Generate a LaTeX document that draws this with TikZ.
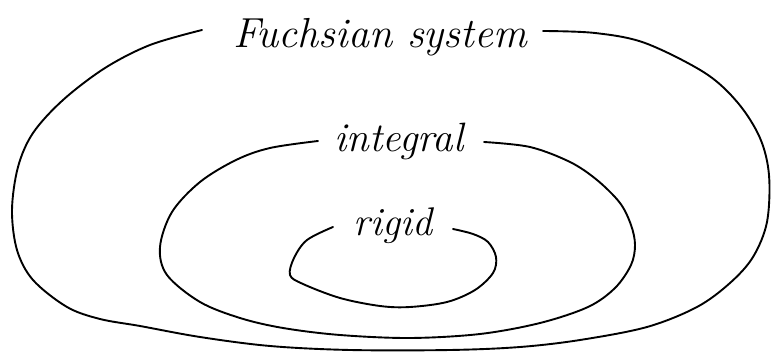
\documentclass[tikz,border=0pt]{standalone}
\begin{document}
\begin{tikzpicture}[x=1pt,y=-1pt,
  hand/.style={line width=1.9pt, line cap=round, line join=round},
  lbl/.style={inner sep=0pt}]
\useasboundingbox (0,0) rectangle (771,352);
% labels
\node[lbl, font=\fontsize{42}{42}\selectfont\itshape] (fs) at (380,37) {Fuchsian system};
\node[lbl, font=\fontsize{41}{41}\selectfont\itshape] (ig) at (399,141) {integral};
\node[lbl, font=\fontsize{40}{40}\selectfont\itshape] (rg) at (393,226) {rigid};
% outer
\draw[hand] plot[smooth, tension=0.55] coordinates {
 (202,30) (150,45) (105,68) (63,100) (33,133) (18,167) (12,210) (17,250)
 (33,280) (67,307) (100,319) (140,326) (200,337) (270,346) (350,350)
 (450,350) (520,347) (580,340) (647,327) (697,307) (730,283) (753,257)
 (767,222) (769,175) (760,138) (738,103) (705,73) (645,43) (595,33) (543,31)};
% middle
\draw[hand] plot[smooth, tension=0.55] coordinates {
 (318,141) (270,148) (236,160) (200,182) (172,212) (160,247) (167,275)
 (200,302) (240,318) (283,328) (340,335) (410,338) (480,334) (540,323)
 (588,307) (615,288) (631,265) (635,245) (631,225) (620,203) (597,180)
 (570,162) (530,147) (484,142)};
% inner
\draw[hand] plot[smooth, tension=0.55] coordinates {
 (333,227) (307,240) (294,258) (290,275) (303,284) (340,298) (380,306)
 (410,307) (447,302) (475,290) (493,273) (496,257) (488,242) (473,234) (453,229)};
\end{tikzpicture}
\end{document}
